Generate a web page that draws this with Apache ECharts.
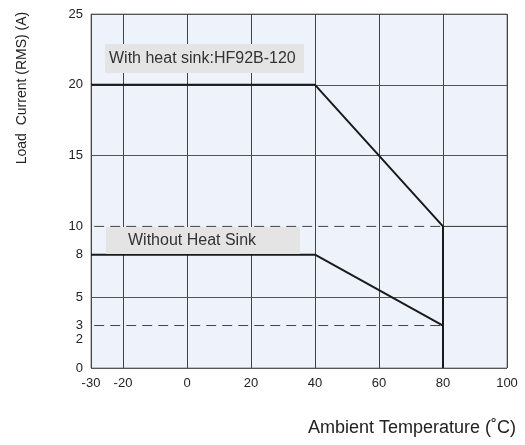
<!DOCTYPE html>
<html>
<head>
<meta charset="utf-8">
<script src="https://cdn.jsdelivr.net/npm/echarts@6/dist/echarts.min.js"></script>
<style>
  html, body { margin: 0; padding: 0; background: #fff; }
  #chart { width: 525px; height: 445px; }
</style>
</head>
<body>
<div id="chart"></div>
<script>
// derating curves (x = ambient temp, y = load current)
var withSink = [[-30, 20], [40, 20], [80, 10], [80, 0]];
var withoutSink = [[-30, 8], [40, 8], [80, 3], [80, 0]];
// reference lines
var dash10 = [[-29, 10], [80, 10]];
var dash3 = [[-29, 3], [80, 3]];
var solid10 = [[80, 10], [100, 10]];
// axis ticks
var xTicks = [-30, -20, 0, 20, 40, 60, 80, 100];
var yLabels = [0, 2, 3, 5, 8, 10, 15, 20, 25];
var yGrid = [0, 5, 15, 20, 25];

var myChart = echarts.init(document.getElementById('chart'));

var option = {
    animation: false,
    grid: {
        left: 91, right: 18, top: 14, bottom: 77,
        show: true,
        backgroundColor: '#eef2fa',
        borderColor: '#888',
        borderWidth: 1
    },
    xAxis: {
        type: 'value',
        min: -30, max: 100,
        axisLine: { show: false },
        axisTick: { show: false, customValues: xTicks },
        axisLabel: {
            customValues: xTicks,
            color: '#222', fontSize: 13, fontFamily: 'Liberation Sans', margin: 9
        },
        splitLine: { show: true, lineStyle: { color: '#444', width: 1 } }
    },
    yAxis: {
        type: 'value',
        min: 0, max: 25,
        axisLine: { show: false },
        axisTick: { show: false, customValues: yGrid },
        axisLabel: {
            customValues: yLabels,
            color: '#222', fontSize: 13, fontFamily: 'Liberation Sans', margin: 8
        },
        splitLine: { show: true, lineStyle: { color: '#555', width: 1 } }
    },
    graphic: [
        {
            type: 'rect', shape: { x: 105, y: 44, width: 199, height: 29 },
            style: { fill: '#e4e4e4' }, z: 100
        },
        {
            type: 'text', x: 109, y: 59, z: 101,
            style: { text: 'With heat sink:HF92B-120', fill: '#333', font: '16px "Liberation Sans"', verticalAlign: 'middle' }
        },
        {
            type: 'rect', shape: { x: 106, y: 227, width: 194, height: 27 },
            style: { fill: '#e4e4e4' }, z: 100
        },
        {
            type: 'text', x: 128, y: 241, z: 101,
            style: { text: 'Without Heat Sink', fill: '#333', font: '16px "Liberation Sans"', verticalAlign: 'middle' }
        },
        {
            type: 'text', x: 22, y: 88, rotation: Math.PI / 2,
            style: { text: 'Load  Current (RMS) (A)', fill: '#222', font: '14px "Liberation Sans"', align: 'center', verticalAlign: 'middle' }
        },
        {
            type: 'text', x: 516, y: 428,
            style: { text: 'Ambient Temperature (˚C)', fill: '#222', font: '18px "Liberation Sans"', align: 'right', verticalAlign: 'middle' }
        }
    ],
    series: [
        {
            type: 'line', data: dash10, symbol: 'none', z: 3,
            lineStyle: { color: '#444', width: 1, type: [10, 6] }
        },
        {
            type: 'line', data: dash3, symbol: 'none', z: 3,
            lineStyle: { color: '#444', width: 1, type: [10, 6] }
        },
        {
            type: 'line', data: solid10, symbol: 'none', z: 3,
            lineStyle: { color: '#333', width: 1 }
        },
        {
            name: 'With heat sink', type: 'line', data: withSink, symbol: 'none', z: 4,
            lineStyle: { color: '#1a1a1a', width: 2 }
        },
        {
            name: 'Without heat sink', type: 'line', data: withoutSink, symbol: 'none', z: 4,
            lineStyle: { color: '#1a1a1a', width: 2 }
        }
    ]
};

myChart.setOption(option);
</script>
</body>
</html>
